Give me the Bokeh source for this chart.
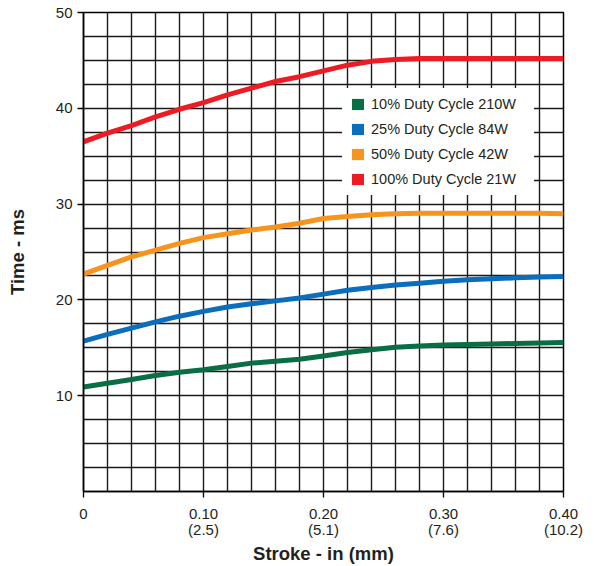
from bokeh.plotting import figure
from bokeh.models import (FixedTicker, SingleIntervalTicker, Legend, LegendItem)
from bokeh.embed import file_html
from bokeh.resources import INLINE

# ---- data ----
stroke_in = [0.00, 0.02, 0.04, 0.06, 0.08, 0.10, 0.12, 0.14, 0.16, 0.18, 0.20,
             0.22, 0.24, 0.26, 0.28, 0.30, 0.32, 0.34, 0.36, 0.38, 0.40]
duty_100 = [36.5, 37.4, 38.2, 39.1, 39.9, 40.6, 41.4, 42.1, 42.8, 43.3, 43.9,
            44.5, 44.9, 45.1, 45.2, 45.2, 45.2, 45.2, 45.2, 45.2, 45.2]
duty_50 = [22.7, 23.6, 24.5, 25.2, 25.9, 26.5, 26.9, 27.3, 27.6, 28.0, 28.5,
           28.7, 28.9, 29.0, 29.05, 29.05, 29.05, 29.05, 29.05, 29.05, 29.0]
duty_25 = [15.7, 16.4, 17.05, 17.7, 18.3, 18.8, 19.25, 19.6, 19.9, 20.2, 20.6,
           21.0, 21.3, 21.55, 21.75, 21.95, 22.1, 22.2, 22.3, 22.4, 22.45]
duty_10 = [10.9, 11.3, 11.7, 12.1, 12.45, 12.7, 13.05, 13.4, 13.6, 13.8, 14.15,
           14.5, 14.8, 15.05, 15.2, 15.3, 15.35, 15.4, 15.45, 15.5, 15.55]

series_labels = ["10% Duty Cycle 210W", "25% Duty Cycle 84W",
                 "50% Duty Cycle 42W", "100% Duty Cycle 21W"]
series_values = [duty_10, duty_25, duty_50, duty_100]
series_colors = ["#0a6e45", "#0a6ebd", "#f7941d", "#ed1c24"]

x_ticks = [0.0, 0.1, 0.2, 0.3, 0.4]
x_tick_labels = ["0", "0.10\n(2.5)", "0.20\n(5.1)", "0.30\n(7.6)", "0.40\n(10.2)"]
y_ticks = [10, 20, 30, 40, 50]

FONT = "Liberation Sans"
TXT = "#231f20"

p = figure(frame_width=480, frame_height=479,
           x_range=(0, 0.4), y_range=(0, 50),
           min_border_left=83, min_border_right=25, min_border_top=12,
           min_border_bottom=60,
           output_backend="svg", toolbar_location=None,
           background_fill_color="white", border_fill_color="white")

p.outline_line_color = "black"
p.outline_line_width = 1.5
p.outline_line_alpha = 1

# grids
p.xgrid.ticker = SingleIntervalTicker(interval=0.02)
p.ygrid.ticker = SingleIntervalTicker(interval=2.5)
for g in (p.xgrid, p.ygrid):
    g.grid_line_color = "#1a1a1a"
    g.grid_line_width = 1.4
    g.grid_line_alpha = 1

# axes
p.xaxis.ticker = FixedTicker(ticks=x_ticks)
p.xaxis.major_label_overrides = {t: l for t, l in zip(x_ticks, x_tick_labels)}
p.yaxis.ticker = FixedTicker(ticks=y_ticks)
for ax in (p.xaxis[0], p.yaxis[0]):
    ax.axis_line_color = "black"
    ax.axis_line_width = 1.5
    ax.major_tick_line_color = "black"
    ax.major_tick_line_width = 1.3
    ax.major_tick_in = 0
    ax.major_tick_out = 6
    ax.minor_tick_line_color = None
    ax.major_label_text_font = FONT
    ax.major_label_text_font_size = "15px"
    ax.major_label_text_color = TXT
    ax.axis_label_text_font = FONT
    ax.axis_label_text_font_size = "18.5px"
    ax.axis_label_text_font_style = "bold"
    ax.axis_label_text_color = TXT

p.xaxis.major_label_text_line_height = 0.95
p.xaxis.axis_label = "Stroke - in (mm)"
p.yaxis.axis_label = "Time - ms"
p.xaxis.major_label_standoff = 7
p.yaxis.major_label_standoff = 5
p.xaxis.axis_label_standoff = 2
p.yaxis.axis_label_standoff = 25

# lines
for vals, col in zip(series_values, series_colors):
    p.line(stroke_in, vals, line_color=col, line_width=5)

# legend swatches: zero-area quads on the series data (invisible in the plot)
items = []
for lab, vals, col in zip(series_labels, series_values, series_colors):
    r = p.quad(left=stroke_in, right=stroke_in, top=vals, bottom=vals,
               fill_color=col, line_color=None)
    items.append(LegendItem(label=lab, renderers=[r]))

legend = Legend(items=items, location=(259, 296))
legend.glyph_width = 15
legend.glyph_height = 14
legend.label_standoff = 6
legend.label_height = 15
legend.label_width = 155
legend.spacing = 9
legend.padding = 8
legend.margin = 0
legend.border_line_alpha = 0
legend.background_fill_color = "white"
legend.background_fill_alpha = 1
legend.label_text_font = FONT
legend.label_text_font_size = "14.5px"
legend.label_text_color = TXT
p.add_layout(legend, "center")

open("out.html", "w").write(file_html(p, INLINE))
